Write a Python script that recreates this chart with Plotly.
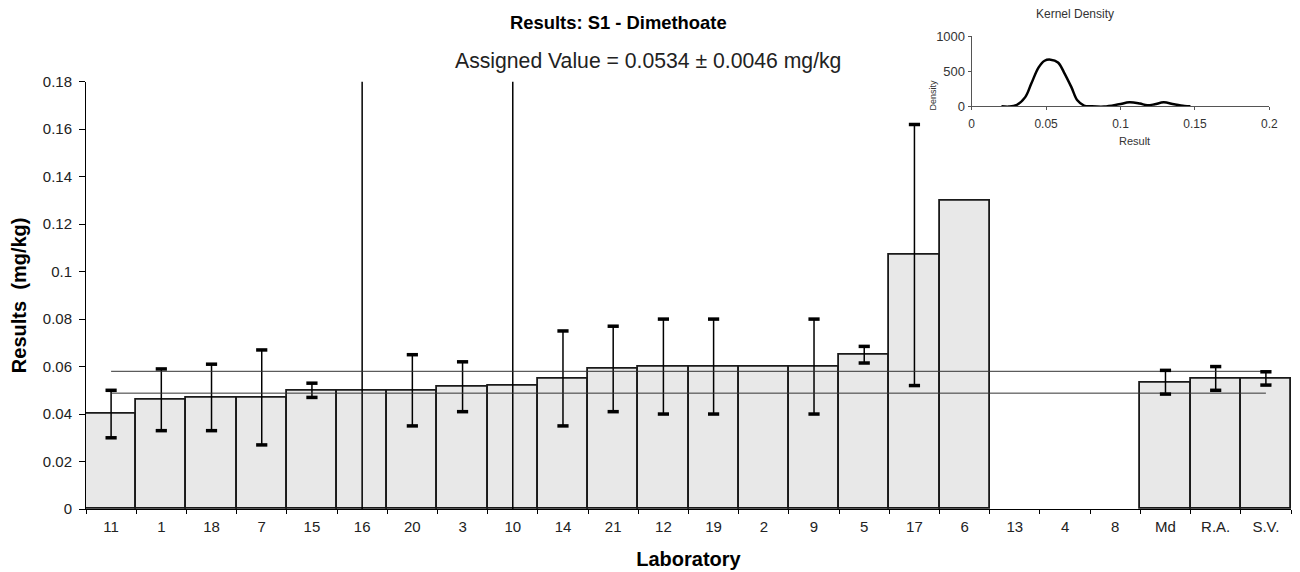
import plotly.graph_objects as go

# Laboratory results, sorted by value (None = no result reported)
labs = ["11", "1", "18", "7", "15", "16", "20", "3", "10", "14", "21", "12",
        "19", "2", "9", "5", "17", "6", "13", "4", "8", "Md", "R.A.", "S.V."]
results = [0.040, 0.046, 0.047, 0.047, 0.050, 0.050, 0.050, 0.0515, 0.052, 0.055,
           0.059, 0.060, 0.060, 0.060, 0.060, 0.065, 0.107, 0.130, None, None,
           None, 0.0534, 0.055, 0.055]
# Reported expanded uncertainty (None = not reported)
uncert = [0.010, 0.013, 0.014, 0.020, 0.003, 0.30, 0.015, 0.0105, 0.30, 0.020,
          0.018, 0.020, 0.020, None, 0.020, 0.0035, 0.055, None, None, None,
          None, 0.005, 0.005, 0.0028]

assigned = 0.0534
assigned_unc = 0.0046

# Kernel density of the results
kde_x = [0.020, 0.025, 0.030, 0.036, 0.040, 0.045, 0.049, 0.053, 0.058, 0.062,
         0.067, 0.071, 0.0755, 0.080, 0.089, 0.099, 0.106, 0.113, 0.118, 0.123,
         0.129, 0.136, 0.143, 0.147]
kde_y = [0, -5, 15, 130, 320, 555, 650, 665, 625, 485,
         273, 85, 10, 0, -5, 28, 56, 38, 14, 28,
         56, 28, 5, 0]

FONT = "Liberation Sans, Arial, sans-serif"
W, H = 1300, 572
ML, MR, MT, MB = 86, 2, 0, 63
PW, PH = W - ML - MR, H - MT - MB


def px_x(x):
    return (x - ML) / PW


def px_y(y):
    return (H - MB - y) / PH


fig = go.Figure()

err = [u if u is not None else 0 for u in uncert]
fig.add_trace(go.Bar(
    x=labs, y=results, width=1,
    marker=dict(color="#e8e8e8", line=dict(color="#1a1a1a", width=1.8)),
    error_y=dict(type="data", array=err, visible=True, color="black",
                 thickness=1.5, width=0),
    showlegend=False, xaxis="x", yaxis="y",
))

# Assigned value ± uncertainty limits
for lvl in (assigned + assigned_unc, assigned - assigned_unc):
    fig.add_trace(go.Scatter(
        x=[labs[0], labs[-1]], y=[lvl, lvl], mode="lines",
        line=dict(color="#333333", width=1), showlegend=False,
        xaxis="x", yaxis="y",
    ))

# Error-bar caps
cap_x, cap_y = [], []
for lab, v, u in zip(labs, results, uncert):
    if v is None or u is None:
        continue
    cap_x += [lab, lab]
    cap_y += [v + u, v - u]
fig.add_trace(go.Scatter(
    x=cap_x, y=cap_y, mode="markers", cliponaxis=True,
    marker=dict(symbol="line-ew", size=8, line=dict(color="black", width=3.5)),
    showlegend=False, xaxis="x", yaxis="y",
))

# Inset: kernel density
fig.add_trace(go.Scatter(
    x=kde_x, y=kde_y, mode="lines", line=dict(color="black", width=2.5, shape="spline"),
    showlegend=False, xaxis="x2", yaxis="y2",
))

fig.update_layout(
    width=W, height=H,
    margin=dict(l=ML, r=MR, t=MT, b=MB),
    paper_bgcolor="white", plot_bgcolor="white",
    font=dict(family=FONT, color="#222222"),
    bargap=0,
    xaxis=dict(
        type="category", categoryorder="array", categoryarray=labs,
        range=[-0.5, len(labs) - 0.5], domain=[0, 1], anchor="y",
        showline=True, linecolor="black", linewidth=1,
        ticks="outside", tickson="boundaries", ticklen=4, tickcolor="black",
        ticklabelstandoff=4,
        tickfont=dict(size=15, family=FONT, color="#222222"),
        showgrid=False, zeroline=False,
        title=dict(text="<b>Laboratory</b>", font=dict(size=20, family=FONT, color="black"),
                   standoff=17),
    ),
    yaxis=dict(
        range=[0, 0.18], dtick=0.02, domain=[0, 0.8546], anchor="x",
        showline=True, linecolor="black", linewidth=1,
        ticks="outside", ticklen=6, tickcolor="black", ticklabelstandoff=4,
        tickfont=dict(size=15, family=FONT, color="#222222"),
        showgrid=False, zeroline=False,
        title=dict(text="<b>Results  (mg/kg)</b>", font=dict(size=20, family=FONT, color="black"),
                   standoff=10),
    ),
    xaxis2=dict(
        range=[0, 0.2], dtick=0.05, domain=[0.735, 0.982], anchor="y2",
        showline=True, linecolor="#555555", linewidth=1,
        ticks="outside", ticklen=3, tickcolor="#555555", ticklabelstandoff=3,
        tickfont=dict(size=12, family=FONT, color="#333333"),
        showgrid=False, zeroline=False,
    ),
    yaxis2=dict(
        range=[0, 1000], dtick=500, domain=[0.8055, 0.9456], anchor="x2",
        showline=True, linecolor="#555555", linewidth=1,
        ticks="outside", ticklen=3, tickcolor="#555555",
        tickfont=dict(size=13, family=FONT, color="#333333"),
        showgrid=False, zeroline=False,
    ),
    annotations=[
        dict(text="<b>Results: S1 - Dimethoate</b>", x=0.4415, y=0.998,
             xref="paper", yref="paper", xanchor="center", yanchor="top",
             showarrow=False, font=dict(size=18.4, family=FONT, color="black")),
        dict(text=f"Assigned Value = {assigned} ± {assigned_unc} mg/kg",
             x=0.466, y=0.9233, xref="paper", yref="paper",
             xanchor="center", yanchor="top", showarrow=False,
             font=dict(size=21.2, family=FONT, color="#222222")),
        dict(text="Kernel Density", x=px_x(1081), y=1.0085,
             xref="paper", yref="paper", xanchor="center", yanchor="top",
             showarrow=False, font=dict(size=12, family=FONT, color="#333333")),
        dict(text="Result", x=px_x(1141), y=px_y(134),
             xref="paper", yref="paper", xanchor="center", yanchor="middle",
             showarrow=False, font=dict(size=11, family=FONT, color="#333333")),
        dict(text="Density", x=px_x(938), y=px_y(88), textangle=-90,
             xref="paper", yref="paper", xanchor="center", yanchor="middle",
             showarrow=False, font=dict(size=9, family=FONT, color="#333333")),
    ],
)

fig.write_html("out.html")
